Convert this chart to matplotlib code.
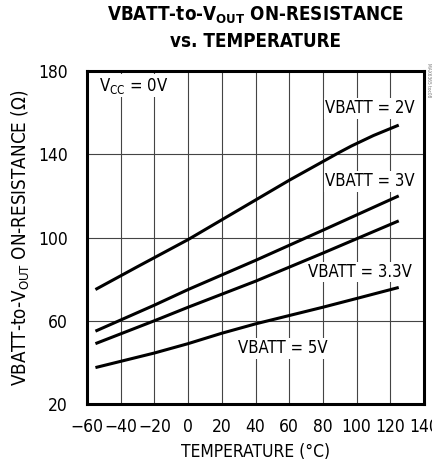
import matplotlib
matplotlib.use("Agg")
import matplotlib.pyplot as plt

plt.rcParams['font.family'] = ['DejaVu Sans']
plt.rcParams['font.stretch'] = 'condensed'
plt.rcParams['mathtext.default'] = 'regular'

# data
temp_2v = [-55, -30, 0, 20, 40, 60, 80, 90, 97, 110, 125]
res_2v = [75, 86, 99, 108.5, 118, 127.5, 136.5, 141, 144, 149, 154]
temp_3v = [-55, -20, 0, 40, 80, 125]
res_3v = [55, 67.5, 75, 89, 103.5, 120]
temp_33v = [-55, -20, 0, 40, 80, 125]
res_33v = [49, 60, 66.5, 79, 92.5, 108]
temp_5v = [-55, -40, -20, 0, 20, 40, 60, 80, 100, 125]
res_5v = [37.5, 40.5, 44.5, 49, 54, 58.5, 62.5, 66.5, 70.7, 76]

xticks = [-60, -40, -20, 0, 20, 40, 60, 80, 100, 120, 140]
xlabels = ['\u221260', '\u221240', '\u221220', '0', '20', '40', '60', '80', '100', '120', '140']
yticks = [20, 60, 100, 140, 180]

fig = plt.figure(figsize=(4.32, 4.69), dpi=100)
ax = fig.add_axes([0.2014, 0.1386, 0.7801, 0.7100])

for t, r in [(temp_2v, res_2v), (temp_3v, res_3v), (temp_33v, res_33v), (temp_5v, res_5v)]:
    ax.plot(t, r, color='black', lw=2.2, solid_capstyle='butt', zorder=3)

ax.set_xlim(-60, 140)
ax.set_ylim(20, 180)
ax.set_xticks(xticks)
ax.set_xticklabels(xlabels)
ax.set_yticks(yticks)
ax.grid(True, color='#444444', lw=0.8)
ax.tick_params(length=0, labelsize=12.5)
ax.tick_params(axis='x', pad=10)
ax.tick_params(axis='y', pad=14)
for s in ax.spines.values():
    s.set_linewidth(2.2)

box = dict(facecolor='white', edgecolor='none', pad=1)
ax.text(-53, 173, r'V$_{CC}$ = 0V', fontsize=12, ha='left', va='center', bbox=box, zorder=4)
ax.text(134.6, 162, 'VBATT = 2V', fontsize=12, ha='right', va='center', bbox=box, zorder=4)
ax.text(134.6, 127, 'VBATT = 3V', fontsize=12, ha='right', va='center', bbox=box, zorder=4)
ax.text(132.6, 83.5, 'VBATT = 3.3V', fontsize=12, ha='right', va='center', bbox=box, zorder=4)
ax.text(56, 46.7, 'VBATT = 5V', fontsize=12, ha='center', va='center', bbox=box, zorder=4)

ax.set_xlabel('TEMPERATURE (\u00b0C)', fontsize=12.5, labelpad=5)
ax.set_ylabel(r'VBATT-to-V$_{OUT}$ ON-RESISTANCE ($\Omega$)', fontsize=13.5, labelpad=4)

fig.text(0.591, 0.968, r'VBATT-to-V$_{\mathbf{OUT}}$ ON-RESISTANCE', fontsize=13.5,
         fontweight='bold', ha='center', va='center')
fig.text(0.591, 0.911, 'vs. TEMPERATURE', fontsize=13.5, fontweight='bold', ha='center', va='center')
fig.text(0.993, 0.83, 'MAX6365 toc08', fontsize=3.5, color='#777777', rotation=270,
         ha='center', va='center')

fig.savefig('out.png', dpi=100)
